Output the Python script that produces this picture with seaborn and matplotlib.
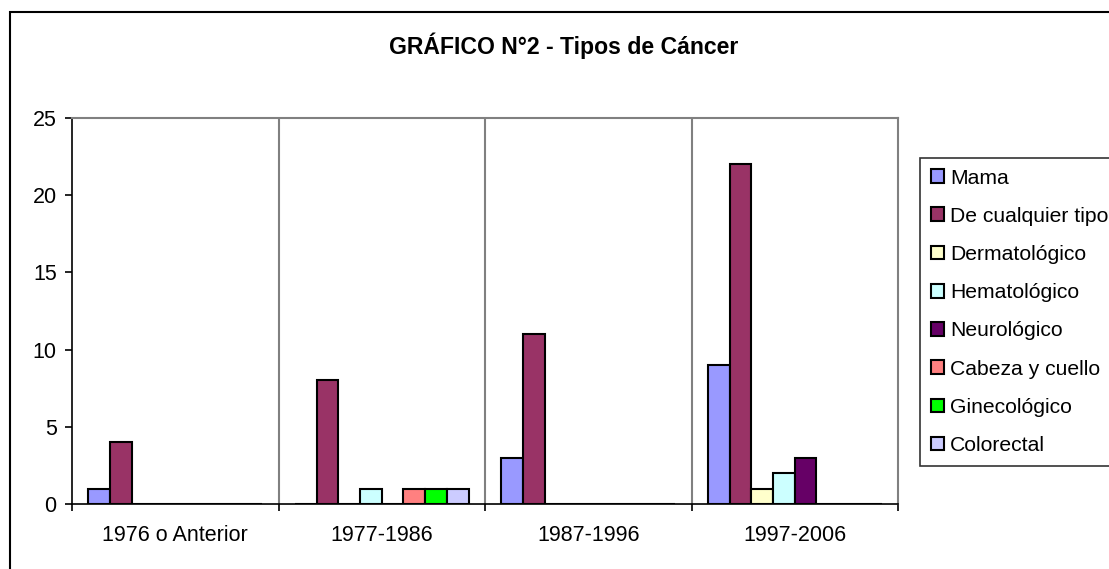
import matplotlib
matplotlib.use("Agg")
import matplotlib.pyplot as plt
from matplotlib.patches import Patch, Rectangle
import seaborn as sns
import pandas as pd

# datos del gráfico
periodos = ["1976 o Anterior", "1977-1986", "1987-1996", "1997-2006"]
tipos = ["Mama", "De cualquier tipo", "Dermatológico", "Hematológico",
         "Neurológico", "Cabeza y cuello", "Ginecológico", "Colorectal"]
mama = [1, 0, 3, 9]
cualquier = [4, 8, 11, 22]
dermato = [0, 0, 0, 1]
hemato = [0, 1, 0, 2]
neuro = [0, 0, 0, 3]
cabeza = [0, 1, 0, 0]
gineco = [0, 1, 0, 0]
colorectal = [0, 1, 0, 0]
colores = ["#9999FF", "#993366", "#FFFFCC", "#CCFFFF",
           "#660066", "#FF8080", "#00FF00", "#CCCCFF"]

valores = [mama, cualquier, dermato, hemato, neuro, cabeza, gineco, colorectal]
filas = []
for t, serie in zip(tipos, valores):
    for p, v in zip(periodos, serie):
        filas.append({"periodo": p, "tipo": t, "casos": v})
df = pd.DataFrame(filas)

sns.set_style("white")
plt.rcParams["font.family"] = ["Liberation Sans", "DejaVu Sans"]
plt.rcParams["text.color"] = "black"
plt.rcParams["xtick.color"] = "black"
plt.rcParams["ytick.color"] = "black"

W, H = 1109, 569
fig = plt.figure(figsize=(W / 100, H / 100), dpi=100)
ax = fig.add_axes([72 / W, (H - 504) / H, (898 - 72) / W, (504 - 118) / H])

sns.barplot(data=df, x="periodo", y="casos", hue="tipo", order=periodos,
            hue_order=tipos, palette=colores, saturation=1, width=0.842,
            errorbar=None, edgecolor="black", linewidth=1.5, ax=ax,
            legend=False)

ax.set_xlim(-0.5, len(periodos) - 0.5)
ax.set_ylim(0, 25)
ax.set_yticks(range(0, 26, 5))
ax.set_xlabel("")
ax.set_ylabel("")

# separadores entre categorías
bordes = [i - 0.5 for i in range(len(periodos) + 1)]
for b in bordes[1:-1]:
    ax.axvline(b, color="#808080", lw=1.5, zorder=0)
ax.set_xticks(bordes, minor=True)
ax.tick_params(axis="x", which="major", length=0, pad=15, labelsize=15.5)
ax.tick_params(axis="x", which="minor", length=5, width=1.2, color="black",
               direction="out", bottom=True)
ax.tick_params(axis="y", length=5, width=1.2, color="black", direction="out",
               left=True, pad=6, labelsize=15.5)

for s in ["top", "right"]:
    ax.spines[s].set_color("#808080")
    ax.spines[s].set_linewidth(1.5)
for s in ["left", "bottom"]:
    ax.spines[s].set_color("black")
    ax.spines[s].set_linewidth(1.2)

fig.text(564 / W, 1 - 46 / H, "GRÁFICO N°2 - Tipos de Cáncer",
         ha="center", va="center", fontsize=16.6, fontweight="bold")

handles = [Patch(facecolor=c, edgecolor="black", linewidth=1.5) for c in colores]
leg = fig.legend(handles, tipos, loc="upper left",
                 bbox_to_anchor=(920 / W, (H - 158) / H), borderaxespad=0,
                 fontsize=15.2, frameon=True, fancybox=False,
                 handlelength=0.62, handleheight=0.62, handletextpad=0.3,
                 labelspacing=0.91, borderpad=0.5)
leg.get_frame().set_edgecolor("black")
leg.get_frame().set_linewidth(1.2)

# borde del área del gráfico
fig.add_artist(Rectangle((10 / W, -0.05), 1.1, (H - 12) / H + 0.05,
                         transform=fig.transFigure, fill=False,
                         edgecolor="black", linewidth=1.5))

fig.savefig("out.png", dpi=100)
